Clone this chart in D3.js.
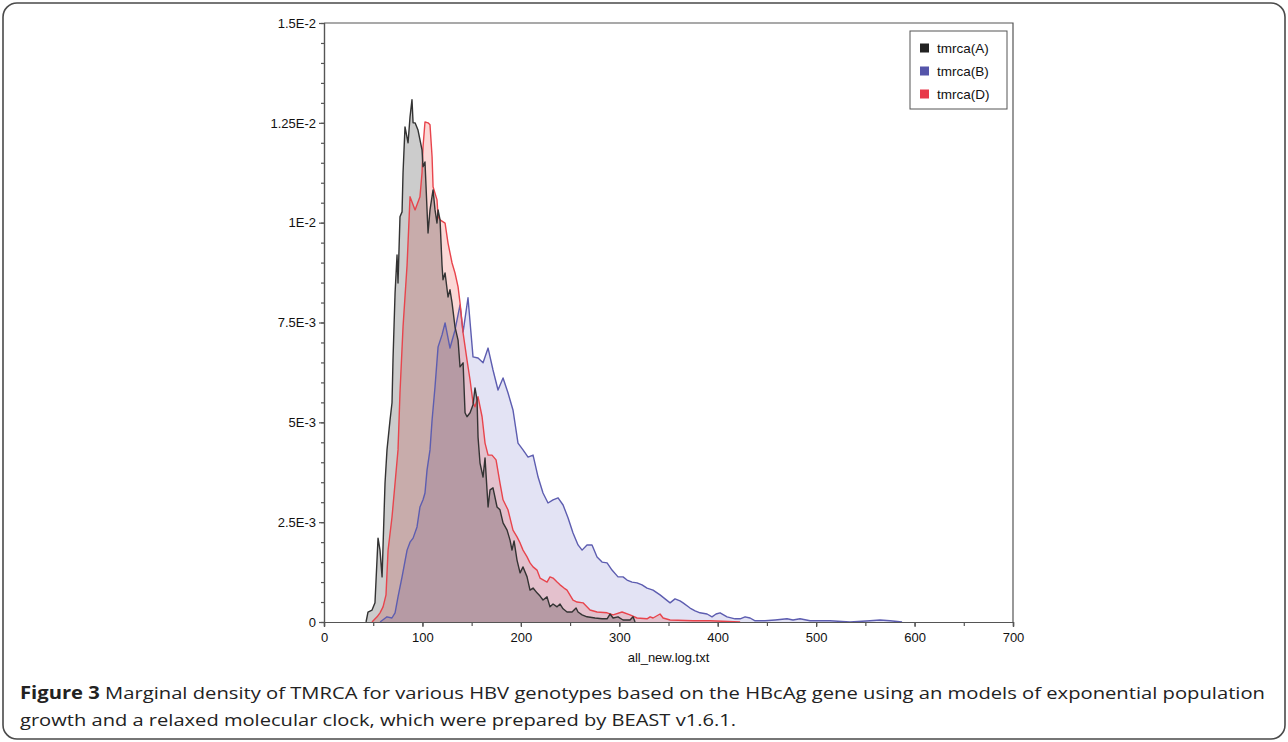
<!DOCTYPE html>
<html>
<head>
<meta charset="utf-8">
<title>Marginal density of TMRCA</title>
<script src="https://d3js.org/d3.v7.min.js"></script>
<style>
  body { margin: 0; background: #fff; }
  text { font-family: "Liberation Sans", Arial, sans-serif; }
  .cap { font-family: "Open Sans", "Noto Sans", sans-serif; }
</style>
</head>
<body>
<svg width="1288" height="742"></svg>
<script>
// series names + colours
var seriesNames = ["tmrca(A)", "tmrca(B)", "tmrca(D)"];

// x ticks and y tick labels as printed
var xTicks = [0, 100, 200, 300, 400, 500, 600, 700];
var yTicks = [0, 0.0025, 0.005, 0.0075, 0.01, 0.0125, 0.015];
var yTickLabels = ["0", "2.5E-3", "5E-3", "7.5E-3", "1E-2", "1.25E-2", "1.5E-2"];

// density curves: [tmrca, density]
var densA = [[42.7,0],[44.7,0.25e-3],[48.8,0.30e-3],[51.8,0.48e-3],[54.9,2.10e-3],[56.9,1.80e-3],[59,1.13e-3],[62,3.48e-3],[64,4.31e-3],[67.1,5.06e-3],[69.1,5.49e-3],[70.1,6.56e-3],[72.2,8.24e-3],[74.2,9.19e-3],[75.2,8.49e-3],[76.2,9.32e-3],[77.2,10.15e-3],[79.3,10.27e-3],[80.3,11.25e-3],[82.3,12.40e-3],[85.4,12.00e-3],[87.4,12.65e-3],[89.4,13.08e-3],[90.5,12.50e-3],[92.5,12.50e-3],[95.5,12.32e-3],[99.6,11.82e-3],[100.6,11.40e-3],[102.6,11.52e-3],[105.7,9.74e-3],[107.7,10.32e-3],[110.8,10.82e-3],[112.8,10.32e-3],[114.8,9.99e-3],[115.9,10.32e-3],[117.9,10.07e-3],[119.9,8.94e-3],[120.9,8.57e-3],[123,8.74e-3],[126,8.14e-3],[128,8.32e-3],[130.1,7.99e-3],[133.1,7.39e-3],[136.2,7.06e-3],[138.2,6.39e-3],[141.3,6.49e-3],[143.3,5.24e-3],[145.3,5.14e-3],[148.4,5.24e-3],[151.4,5.44e-3],[153.4,5.86e-3],[155.5,5.56e-3],[156.5,4.63e-3],[158.5,3.98e-3],[161.6,3.63e-3],[163.6,4.11e-3],[166.7,2.88e-3],[168.7,3.31e-3],[171.7,3.36e-3],[175.8,2.88e-3],[178.8,2.81e-3],[181.9,2.48e-3],[186,2.30e-3],[189,2.05e-3],[191,1.80e-3],[193.1,2.03e-3],[196.1,1.55e-3],[199.2,1.23e-3],[202.2,1.38e-3],[206.3,1.13e-3],[209.3,0.80e-3],[212.4,0.85e-3],[216.4,0.73e-3],[219.5,0.65e-3],[222.5,0.55e-3],[226.6,0.63e-3],[229.6,0.38e-3],[232.7,0.45e-3],[236.8,0.38e-3],[239.8,0.45e-3],[242.9,0.33e-3],[246.9,0.25e-3],[252,0.25e-3],[256.1,0.35e-3],[258.1,0.25e-3],[262.2,0.18e-3],[267.2,0.13e-3],[275.4,0.10e-3],[282.5,0.08e-3],[287.6,0.08e-3],[290.6,0.20e-3],[293.7,0.10e-3],[298.7,0.13e-3],[303.8,0.05e-3],[310.9,0.05e-3],[314,0.13e-3],[316,0]];

var densB = [[57,0],[64,0.13e-3],[69,0.10e-3],[72.2,0.23e-3],[75.2,0.63e-3],[79.3,1.13e-3],[84.4,1.80e-3],[87.4,2.00e-3],[90.5,2.10e-3],[94.5,2.38e-3],[97.5,2.88e-3],[100.6,3.06e-3],[102.6,3.23e-3],[104.7,3.81e-3],[107.7,4.31e-3],[109.8,5.06e-3],[112.8,5.89e-3],[115.9,6.89e-3],[119.9,7.19e-3],[123,7.49e-3],[128,6.86e-3],[133.1,7.31e-3],[138.2,7.94e-3],[141.3,7.26e-3],[146.3,8.12e-3],[151.4,6.64e-3],[156.5,6.61e-3],[161.6,6.49e-3],[166.7,6.86e-3],[171.7,6.31e-3],[176.8,5.81e-3],[181.9,6.11e-3],[186.9,5.74e-3],[192,5.31e-3],[197.1,4.48e-3],[202.2,4.31e-3],[207.3,4.13e-3],[212.4,4.18e-3],[217.5,3.63e-3],[222.5,3.23e-3],[227.6,2.98e-3],[232.7,3.06e-3],[237.8,3.11e-3],[242.9,2.93e-3],[247.9,2.61e-3],[253,2.23e-3],[258.1,1.93e-3],[262.2,1.80e-3],[267.2,1.93e-3],[272.3,1.93e-3],[277.4,1.63e-3],[282.5,1.50e-3],[287.6,1.48e-3],[292.6,1.30e-3],[298.7,1.13e-3],[303.8,1.13e-3],[307.9,1.05e-3],[313,1.00e-3],[318,0.98e-3],[323.1,0.93e-3],[328.2,0.85e-3],[334.3,0.80e-3],[341.4,0.68e-3],[346.5,0.58e-3],[351.6,0.48e-3],[356.6,0.58e-3],[361.7,0.53e-3],[364.8,0.48e-3],[371.9,0.35e-3],[377,0.28e-3],[382,0.23e-3],[389.2,0.20e-3],[394.2,0.13e-3],[398.3,0.20e-3],[402.4,0.23e-3],[409.5,0.13e-3],[417.6,0.08e-3],[422.8,0.08e-3],[427.8,0.13e-3],[432.9,0.10e-3],[438,0.03e-3],[448.1,0.03e-3],[458.3,0.05e-3],[470.4,0.08e-3],[476.5,0.05e-3],[483.6,0.08e-3],[493.8,0.03e-3],[514.1,0.03e-3],[534.4,0],[554.7,0.03e-3],[564.9,0.05e-3],[575.1,0.03e-3],[587.3,0]];

var densD = [[48.8,0],[53.9,0.13e-3],[56.9,0.23e-3],[60,0.38e-3],[63,0.68e-3],[65.1,1.80e-3],[69.1,2.63e-3],[72.2,3.48e-3],[75.2,4.31e-3],[77.2,5.74e-3],[80.3,7.39e-3],[84.4,8.94e-3],[87.4,10.65e-3],[92.5,10.32e-3],[97.5,10.65e-3],[99.6,11.25e-3],[100.6,11.90e-3],[102.6,12.52e-3],[105.7,12.50e-3],[107.7,12.45e-3],[109.8,11.65e-3],[110.8,10.90e-3],[114.8,10.57e-3],[115.9,10.15e-3],[117.9,10.07e-3],[123,9.99e-3],[126,9.49e-3],[130.1,8.99e-3],[133.1,8.74e-3],[136.2,8.39e-3],[138.2,7.99e-3],[141.3,7.24e-3],[145.3,6.56e-3],[148.4,6.06e-3],[151.4,5.49e-3],[153.4,5.39e-3],[156.5,5.64e-3],[160.6,5.14e-3],[163.6,4.48e-3],[166.7,4.18e-3],[170.7,4.18e-3],[174.8,4.06e-3],[178.8,3.48e-3],[181.9,3.06e-3],[186.9,2.81e-3],[192,2.30e-3],[196.1,2.13e-3],[199.2,1.98e-3],[202.2,1.80e-3],[206.3,1.63e-3],[209.3,1.48e-3],[212.4,1.38e-3],[216.4,1.30e-3],[219.5,1.10e-3],[226.6,1.00e-3],[229.6,1.13e-3],[232.7,1.10e-3],[236.8,1.00e-3],[239.8,0.93e-3],[243.9,0.85e-3],[246.9,0.80e-3],[253,0.55e-3],[257.1,0.50e-3],[263.2,0.48e-3],[270.3,0.30e-3],[277.4,0.25e-3],[287.6,0.23e-3],[293.7,0.18e-3],[302.8,0.25e-3],[310.9,0.18e-3],[318,0.10e-3],[328.2,0.08e-3],[331.3,0.13e-3],[334.3,0.10e-3],[341.4,0.20e-3],[344.5,0.10e-3],[351.6,0.05e-3],[375,0.03e-3],[392.3,0.03e-3],[422.8,0]];

var lineColors = {A: "#333333", B: "#5d5db0", D: "#e8444c"};
var fillColors = {A: "rgba(0,0,0,0.2)", B: "rgba(90,90,190,0.17)", D: "rgba(235,60,50,0.2)"};
var legendColors = ["#222222", "#5555aa", "#e8394a"];

var svg = d3.select("svg");

// outer rounded frame
svg.append("rect")
  .attr("x", 3).attr("y", 3).attr("width", 1282).attr("height", 736)
  .attr("rx", 14).attr("ry", 14)
  .attr("fill", "#fff").attr("stroke", "#4a4a4a").attr("stroke-width", 1.6);

var x = d3.scaleLinear().domain([0, 700]).range([324, 1013]);
var y = d3.scaleLinear().domain([0, 0.015]).range([622, 23]);

var area = d3.area()
  .x(function(d) { return x(d[0]); })
  .y0(y(0))
  .y1(function(d) { return y(d[1]); });
var line = d3.line()
  .x(function(d) { return x(d[0]); })
  .y(function(d) { return y(d[1]); });

var series = [
  {key: "B", data: densB},
  {key: "D", data: densD},
  {key: "A", data: densA}
];

// fills first, then outlines on top
series.forEach(function(s) {
  svg.append("path").datum(s.data)
    .attr("d", area)
    .attr("fill", fillColors[s.key]);
});
series.forEach(function(s) {
  svg.append("path").datum(s.data)
    .attr("d", line)
    .attr("fill", "none")
    .attr("stroke", lineColors[s.key])
    .attr("stroke-width", 1.4)
    .attr("stroke-linejoin", "round");
});

// plot frame (top + right)
svg.append("path")
  .attr("d", "M" + x(0) + "," + y(0.015) + "H" + x(700) + "V" + y(0))
  .attr("fill", "none").attr("stroke", "#555").attr("stroke-width", 1.2);

// x axis
var xAxis = svg.append("g")
  .attr("transform", "translate(0," + y(0) + ")")
  .call(d3.axisBottom(x).tickValues(d3.range(0, 701, 50)).tickSize(4).tickFormat(""));
xAxis.append("g").call(d3.axisBottom(x).tickValues(xTicks).tickSize(5).tickFormat(d3.format("d")));
xAxis.selectAll("path, line").attr("stroke", "#555").attr("stroke-width", 1.2);
xAxis.selectAll("text").attr("fill", "#111").style("font-size", "13px").attr("dy", "0.9em");

svg.append("text")
  .attr("x", (x(0) + x(700)) / 2).attr("y", 662)
  .attr("text-anchor", "middle")
  .style("font-size", "13px").attr("fill", "#111")
  .text("all_new.log.txt");

// y axis
var yAxis = svg.append("g")
  .attr("transform", "translate(" + x(0) + ",0)")
  .call(d3.axisLeft(y).tickValues(d3.range(0, 0.01501, 0.0005)).tickSize(3).tickFormat(""));
yAxis.append("g").call(d3.axisLeft(y).tickValues(yTicks).tickSize(5)
  .tickFormat(function(d, i) { return yTickLabels[i]; }));
yAxis.selectAll("path, line").attr("stroke", "#555").attr("stroke-width", 1.2);
yAxis.selectAll("text").attr("fill", "#111").style("font-size", "13px").attr("x", -8);

// legend
var lg = svg.append("g");
lg.append("rect")
  .attr("x", 910).attr("y", 31).attr("width", 97).attr("height", 78)
  .attr("fill", "#fff").attr("stroke", "#555").attr("stroke-width", 1);
seriesNames.forEach(function(name, i) {
  var cy = 48 + i * 23;
  lg.append("rect").attr("x", 920).attr("y", cy - 4.5).attr("width", 9).attr("height", 9)
    .attr("fill", legendColors[i]);
  lg.append("text").attr("x", 937).attr("y", cy).attr("dy", "0.36em")
    .style("font-size", "13.5px").attr("fill", "#111").text(name);
});

// caption
var cap1 = svg.append("text").attr("class", "cap")
  .attr("x", 20).attr("y", 699)
  .attr("textLength", 1245).attr("lengthAdjust", "spacingAndGlyphs")
  .style("font-size", "17px").attr("fill", "#222");
cap1.append("tspan").style("font-weight", "bold").text("Figure 3");
cap1.append("tspan").text(" Marginal density of TMRCA for various HBV genotypes based on the HBcAg gene using an models of exponential population");
svg.append("text").attr("class", "cap")
  .attr("x", 20).attr("y", 726)
  .attr("textLength", 716).attr("lengthAdjust", "spacingAndGlyphs")
  .style("font-size", "17px").attr("fill", "#222")
  .text("growth and a relaxed molecular clock, which were prepared by BEAST v1.6.1.");
</script>
</body>
</html>
